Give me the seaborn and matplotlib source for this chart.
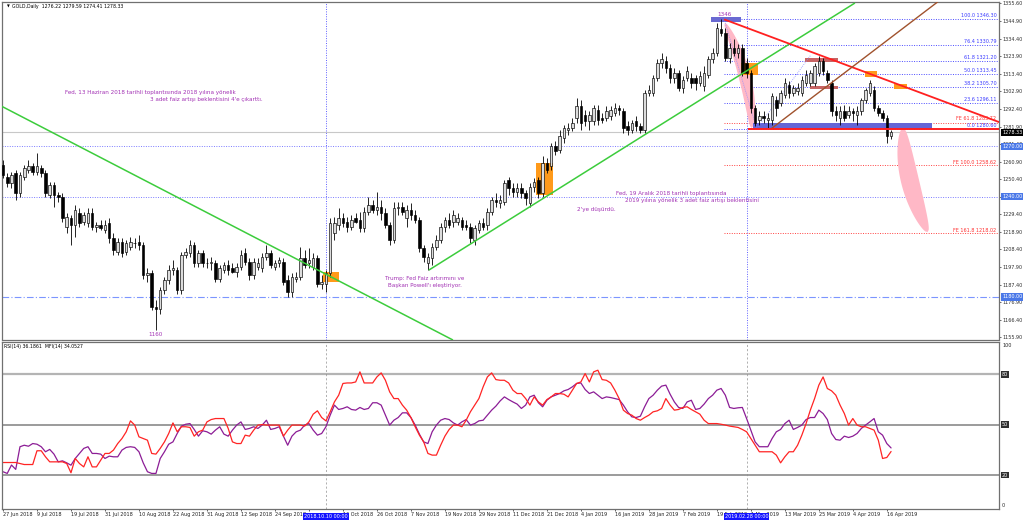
import numpy as np
import pandas as pd
import seaborn as sns
import matplotlib.pyplot as plt
from matplotlib.patches import Rectangle, Polygon

# =============================
# DATA
# =============================

opens = [1259, 1252, 1248, 1254, 1242, 1252, 1256, 1258, 1255, 1257,
         1254, 1241, 1247, 1241, 1240, 1222, 1227, 1223, 1230, 1225,
         1224, 1230, 1222, 1223, 1220, 1224, 1215, 1207, 1213, 1207,
         1210, 1212, 1213, 1211, 1193, 1194, 1174, 1173, 1184, 1190,
         1196, 1196, 1184, 1205, 1206, 1211, 1200, 1206, 1200, 1200,
         1200, 1191, 1196, 1199, 1197, 1195, 1198, 1206, 1201, 1193,
         1198, 1197, 1204, 1206, 1198, 1200, 1201, 1190, 1183, 1191,
         1192, 1203, 1200, 1198, 1203, 1188, 1188, 1194, 1218, 1223,
         1227, 1225, 1222, 1227, 1226, 1221, 1231, 1235, 1232, 1234,
         1230, 1223, 1214, 1233, 1234, 1227, 1232, 1229, 1226, 1209,
         1200, 1203, 1210, 1214, 1222, 1226, 1225, 1225, 1226, 1223,
         1222, 1214, 1220, 1224, 1223, 1231, 1238, 1236, 1237, 1250,
         1245, 1243, 1245, 1242, 1236, 1246, 1250, 1242, 1260, 1258,
         1270, 1268, 1275, 1280, 1281, 1287, 1294, 1289, 1285, 1285,
         1292, 1287, 1287, 1288, 1290, 1293, 1291, 1282, 1280, 1285,
         1282, 1280, 1302, 1302, 1311, 1320, 1321, 1317, 1311, 1314,
         1305, 1311, 1311, 1311, 1308, 1306, 1313, 1322, 1326, 1340,
         1338, 1323, 1329, 1326, 1329, 1320, 1314, 1293, 1286, 1288,
         1286, 1286, 1298, 1296, 1301, 1307, 1302, 1303, 1302, 1308,
         1308, 1308, 1314, 1321, 1314, 1308, 1291, 1287, 1291, 1289,
         1291, 1289, 1291, 1298, 1302, 1304, 1293, 1290, 1287, 1276.22]

highs = [1262, 1254, 1255, 1256, 1255, 1259, 1262, 1260, 1266, 1259,
         1256, 1249, 1249, 1243, 1242, 1230, 1229, 1235, 1233, 1231,
         1233, 1233, 1225, 1226, 1226, 1227, 1218, 1215, 1215, 1214,
         1216, 1215, 1217, 1213, 1197, 1196, 1178, 1186, 1192, 1199,
         1202, 1198, 1207, 1209, 1214, 1213, 1208, 1208, 1203, 1204,
         1202, 1199, 1201, 1202, 1200, 1200, 1208, 1209, 1203, 1203,
         1203, 1206, 1211, 1208, 1202, 1204, 1203, 1193, 1194, 1195,
         1210, 1208, 1209, 1206, 1205, 1193, 1196, 1227, 1228, 1233,
         1230, 1228, 1229, 1230, 1231, 1234, 1240, 1238, 1243, 1238,
         1233, 1225, 1237, 1237, 1237, 1235, 1236, 1232, 1228, 1211,
         1206, 1212, 1217, 1224, 1228, 1230, 1232, 1230, 1228, 1226,
         1224, 1223, 1226, 1227, 1233, 1240, 1242, 1241, 1250, 1252,
         1248, 1248, 1248, 1244, 1248, 1251, 1252, 1264, 1263, 1272,
         1273, 1280, 1283, 1284, 1287, 1299, 1298, 1292, 1291, 1295,
         1295, 1290, 1294, 1294, 1296, 1295, 1293, 1285, 1286, 1288,
         1284, 1304, 1307, 1313, 1322, 1326, 1324, 1319, 1317, 1316,
         1312, 1318, 1314, 1313, 1315, 1318, 1324, 1329, 1344, 1346.3,
         1341, 1332, 1334, 1331, 1331, 1323, 1316, 1295, 1291, 1291,
         1290, 1302, 1300, 1304, 1311, 1309, 1307, 1308, 1312, 1316,
         1316, 1320, 1324.3, 1323, 1316, 1310, 1294, 1294, 1295, 1294,
         1293, 1294, 1299, 1305, 1310, 1306, 1295, 1292, 1289, 1279.59]

lows = [1251, 1246, 1245, 1238, 1240, 1250, 1254, 1253, 1253, 1252,
        1240, 1239, 1234, 1237, 1225, 1218, 1211, 1216, 1222, 1223,
        1222, 1220, 1219, 1220, 1218, 1212, 1205, 1205, 1204, 1205,
        1208, 1209, 1208, 1191, 1189, 1172, 1160, 1170, 1182, 1188,
        1193, 1182, 1182, 1203, 1204, 1198, 1198, 1198, 1197, 1196,
        1189, 1189, 1194, 1193, 1194, 1192, 1196, 1199, 1190, 1191,
        1196, 1195, 1202, 1197, 1196, 1198, 1187, 1180, 1180, 1189,
        1190, 1197, 1197, 1196, 1186, 1185, 1183, 1192, 1214, 1220,
        1222, 1219, 1220, 1224, 1219, 1219, 1229, 1230, 1229, 1226,
        1221, 1211, 1212, 1229, 1229, 1222, 1226, 1224, 1207, 1201,
        1196, 1199, 1208, 1212, 1219, 1221, 1222, 1223, 1220, 1220,
        1212, 1211, 1218, 1220, 1220, 1229, 1234, 1233, 1235, 1241,
        1240, 1240, 1239, 1235, 1234, 1243, 1239, 1240, 1254, 1256,
        1265, 1266, 1272, 1277, 1279, 1284, 1280, 1282, 1280, 1283,
        1283, 1284, 1285, 1286, 1288, 1289, 1278, 1277, 1278, 1279,
        1278, 1278, 1300, 1300, 1309, 1317, 1314, 1308, 1308, 1303,
        1302, 1309, 1305, 1304, 1306, 1303, 1311, 1320, 1324, 1336,
        1321, 1320, 1324, 1323, 1312, 1311, 1290, 1282, 1283, 1284,
        1281, 1283, 1288, 1294, 1299, 1299, 1300, 1301, 1300, 1306,
        1306, 1306, 1312, 1313, 1308, 1288, 1285, 1283, 1285, 1287,
        1285, 1283, 1289, 1296, 1300, 1291, 1288, 1285, 1272, 1274.41]

closes = [1253, 1248, 1253, 1242, 1253, 1257, 1258, 1255, 1258, 1254,
          1242, 1247, 1241, 1240, 1227, 1228, 1223, 1232, 1224, 1229,
          1230, 1222, 1223, 1221, 1223, 1215, 1208, 1213, 1206, 1212,
          1213, 1212, 1211, 1193, 1194, 1174, 1173, 1184, 1190, 1196,
          1197, 1184, 1205, 1207, 1211, 1200, 1206, 1200, 1200, 1201,
          1191, 1197, 1199, 1196, 1195, 1198, 1205, 1201, 1193, 1201,
          1200, 1204, 1206, 1199, 1200, 1202, 1189, 1183, 1192, 1192,
          1203, 1199, 1202, 1203, 1188, 1189, 1194, 1224, 1224, 1227,
          1224, 1222, 1226, 1225, 1221, 1231, 1235, 1232, 1234, 1230,
          1223, 1214, 1233, 1234, 1231, 1232, 1229, 1226, 1209, 1204,
          1204, 1210, 1214, 1222, 1226, 1223, 1229, 1227, 1222, 1222,
          1215, 1221, 1224, 1222, 1231, 1238, 1237, 1238, 1248, 1245,
          1243, 1245, 1242, 1239, 1246, 1249, 1242, 1260, 1256, 1270,
          1267, 1276, 1281, 1281, 1284, 1294, 1284, 1285, 1289, 1293,
          1286, 1286, 1291, 1292, 1293, 1292, 1281, 1280, 1284, 1282,
          1280, 1302, 1304, 1311, 1320, 1322, 1317, 1311, 1314, 1305,
          1310, 1315, 1308, 1308, 1312, 1314, 1322, 1326, 1341, 1338,
          1323, 1329, 1326, 1329, 1314, 1314, 1293, 1284, 1288, 1287,
          1287, 1300, 1293, 1302, 1308, 1302, 1305, 1305, 1310, 1313,
          1314, 1318, 1321, 1315, 1310, 1291, 1289, 1291, 1287, 1291,
          1290, 1291, 1298, 1304, 1308, 1293, 1290, 1287, 1276, 1278.33]

rsi = [22.0, 21.0, 26.0, 23.4, 36.9, 37.8, 37.2, 38.8, 38.4, 36.9,
       33.9, 35.3, 32.5, 27.9, 28.5, 27.3, 25.9, 29.9, 32.9, 35.9,
       36.9, 32.9, 32.9, 32.5, 29.9, 31.3, 30.9, 30.9, 34.9, 36.5,
       36.9, 36.5, 33.9, 27.3, 22.0, 21.0, 21.0, 29.9, 33.9, 38.4,
       39.8, 44.8, 49.2, 50.3, 50.7, 47.2, 43.2, 46.4, 45.8, 44.4,
       46.8, 48.8, 44.4, 43.2, 46.8, 49.8, 51.7, 47.2, 47.8, 48.8,
       47.8, 49.8, 52.7, 47.2, 47.8, 48.8, 43.2, 37.8, 43.2, 45.8,
       46.8, 49.8, 50.7, 46.8, 43.8, 44.8, 48.8, 55.7, 61.7, 59.1,
       59.7, 60.7, 59.1, 58.7, 60.3, 59.1, 59.7, 63.1, 63.1, 61.7,
       55.7, 49.8, 52.7, 54.3, 57.1, 57.1, 54.3, 49.8, 44.4, 39.8,
       38.8, 45.8, 49.8, 52.7, 53.7, 53.1, 51.1, 49.8, 51.7, 53.1,
       49.8, 50.7, 52.3, 52.7, 55.7, 58.7, 61.1, 64.2, 66.6, 65.0,
       63.6, 62.3, 59.7, 61.7, 66.6, 67.6, 63.1, 60.7, 64.6, 66.6,
       67.6, 68.6, 70.2, 71.0, 72.6, 74.6, 74.9, 71.0, 68.6, 69.6,
       67.6, 65.6, 66.6, 66.2, 65.6, 65.0, 61.7, 57.7, 54.7, 54.3,
       55.1, 60.7, 65.6, 67.6, 70.6, 73.0, 73.6, 68.2, 63.6, 60.3,
       59.7, 63.6, 64.6, 59.1, 59.7, 62.3, 65.6, 67.6, 70.6, 71.6,
       67.6, 60.3, 59.7, 60.1, 60.3, 53.7, 46.8, 39.8, 36.9, 36.9,
       36.9, 41.8, 45.8, 47.2, 50.7, 52.7, 47.2, 48.4, 49.8, 53.1,
       54.3, 54.3, 58.7, 56.7, 53.1, 44.8, 41.2, 40.8, 43.2, 42.4,
       43.2, 44.8, 47.8, 49.8, 51.7, 53.7, 45.8, 43.8, 38.8, 36.19]

mfi = [27.5, 27.5, 27.5, 27.5, 26.9, 26.3, 26.3, 26.3, 34.5, 34.5,
       30.9, 27.9, 27.9, 27.9, 27.9, 26.9, 21.4, 29.9, 26.9, 24.9,
       30.9, 24.9, 24.9, 28.9, 32.9, 32.9, 34.9, 38.8, 41.8, 45.8,
       52.3, 49.8, 42.8, 41.8, 40.8, 32.9, 32.5, 35.9, 39.8, 44.8,
       51.1, 45.8, 48.8, 48.8, 48.4, 43.2, 45.8, 46.8, 51.7, 53.1,
       53.7, 53.7, 53.7, 47.8, 39.8, 38.8, 38.8, 43.8, 43.2, 46.8,
       49.8, 50.1, 49.8, 49.8, 49.8, 49.8, 43.2, 46.8, 49.8, 49.8,
       49.8, 49.2, 51.7, 56.3, 58.3, 54.3, 52.3, 57.7, 63.6, 67.6,
       74.6, 74.9, 74.9, 75.5, 81.5, 74.9, 74.9, 74.9, 78.5, 80.9,
       76.5, 69.6, 65.6, 65.6, 61.7, 58.7, 54.3, 48.8, 43.8, 39.8,
       32.9, 31.9, 31.9, 37.8, 43.2, 47.2, 49.8, 49.8, 48.8, 52.7,
       57.7, 61.7, 65.6, 72.6, 78.5, 80.9, 76.9, 76.5, 76.5, 74.9,
       70.6, 68.6, 68.6, 65.6, 61.7, 66.6, 63.6, 61.7, 65.0, 66.6,
       68.6, 68.6, 68.2, 66.6, 70.6, 74.6, 75.5, 80.5, 75.5, 81.5,
       82.5, 76.9, 76.5, 74.9, 70.6, 65.6, 58.7, 56.7, 55.7, 53.7,
       52.7, 54.3, 55.7, 57.7, 58.3, 59.7, 65.6, 61.7, 58.7, 59.1,
       60.3, 60.7, 59.1, 57.7, 56.3, 52.7, 50.7, 50.7, 50.7, 50.3,
       49.8, 49.2, 48.8, 48.4, 47.2, 45.8, 41.8, 37.8, 33.9, 33.9,
       33.9, 33.9, 31.9, 27.3, 30.9, 33.9, 33.9, 37.8, 43.8, 50.7,
       58.7, 65.6, 73.6, 78.5, 71.6, 70.2, 67.6, 61.7, 56.7, 49.8,
       53.7, 49.8, 48.8, 48.8, 47.8, 46.8, 40.8, 29.9, 30.5, 34.05]

rsi_last = 36.1861
mfi_last = 34.0527

date_labels = ["27 Jun 2018", "9 Jul 2018", "19 Jul 2018", "31 Jul 2018", "10 Aug 2018",
               "22 Aug 2018", "31 Aug 2018", "12 Sep 2018", "24 Sep 2018", "4 Oct 2018",
               "16 Oct 2018", "26 Oct 2018", "7 Nov 2018", "19 Nov 2018", "29 Nov 2018",
               "11 Dec 2018", "21 Dec 2018", "4 Jan 2019", "16 Jan 2019", "28 Jan 2019",
               "7 Feb 2019", "19 Feb 2019", "1 Mar 2019", "13 Mar 2019", "25 Mar 2019",
               "4 Apr 2019", "16 Apr 2019"]
date_step = 8

price_ticks = [1355.60, 1344.90, 1334.40, 1323.90, 1313.40, 1302.90, 1292.40, 1281.90,
               1271.40, 1260.90, 1250.40, 1239.90, 1229.40, 1218.90, 1208.40, 1197.90,
               1187.40, 1176.90, 1166.40, 1155.90]

# marked bars (vertical cursor lines)
marked_bars = [76, 175]
marked_names = ["2018.10.10 00:00", "2019.02.28 00:00"]

# fibo retracement (from the 1346 top) and expansion
fib_start = 169.7
fib_pct = ["100.0", "76.4", "61.8", "50.0", "38.2", "23.6", "0.0"]
fib_lvl = [1346.30, 1330.79, 1321.20, 1313.45, 1305.70, 1296.11, 1280.60]
fe_pct = ["61.8", "100.0", "161.8"]
fe_lvl = [1283.72, 1258.62, 1218.02]

# horizontal levels
blue_levels = [1270.00, 1240.00]
dashdot_level = 1180.00
last_price = 1278.33

# trend lines: (x0, x1, y0, y1)
green_down = (-0.3, 105.9, 1294.0, 1154.2)
green_up = (100.2, 200.5, 1196.0, 1355.8)
red_down = (169.7, 235.0, 1346.0, 1284.0)
brown_up = (180.9, 220.0, 1280.8, 1356.5)
red_flat = (175.3, 235.0, 1280.2, 1280.2)
fe_legs = [(169.7, 177.4, 1346.3, 1280.6), (177.4, 190.0, 1280.6, 1324.3)]

# boxes: (x0, x1, y0, y1, colour)
boxes = [(75.3, 79.1, 1188.9, 1194.9, "#ff9a1a"),
         (125.4, 129.4, 1241.0, 1260.1, "#ff9a1a"),
         (173.6, 177.6, 1312.8, 1319.9, "#ff9a1a"),
         (202.8, 205.6, 1311.5, 1315.1, "#ff9a1a"),
         (209.6, 212.7, 1304.3, 1307.3, "#ff9a1a"),
         (188.7, 196.5, 1320.5, 1322.9, "#c86464"),
         (189.9, 196.5, 1304.3, 1306.1, "#c86464"),
         (176.5, 218.6, 1280.4, 1283.9, "#6565d6"),
         (166.6, 173.6, 1344.4, 1347.4, "#6a6ad2")]

# pink arcs: (start, control, end, width px)
arcs = [((169.9, 1343.8), (176.1, 1310.6), (176.2, 1281.0), 12),
        ((211.8, 1281.0), (212.1, 1249.9), (217.6, 1218.8), 18)]

# notes
notes = [(14.6, 1302.1, "Fed, 13 Haziran 2018 tarihli toplantısında 2018 yılına yönelik", "left"),
         (34.6, 1297.8, "3 adet faiz artışı beklentisini 4'e çıkarttı.", "left"),
         (99.3, 1191.3, "Trump: Fed Faiz artırımını ve", "center"),
         (99.3, 1187.1, "Başkan Powell'ı eleştiriyor.", "center"),
         (144.2, 1242.1, "Fed, 19 Aralık 2018 tarihli toplantısında", "left"),
         (146.4, 1237.4, "2019 yılına yönelik 3 adet faiz artışı beklentisini", "left"),
         (135.1, 1232.0, "2'ye düşürdü.", "left"),
         (169.9, 1349.0, "1346", "center"),
         (35.8, 1157.8, "1160", "center")]

# =============================
# FRAME
# =============================

df = pd.DataFrame({"bar": np.arange(len(closes)), "open": opens, "high": highs,
                   "low": lows, "close": closes, "rsi": rsi, "mfi": mfi})

sns.set_theme(style="white")
plt.rcParams["font.family"] = ["DejaVu Sans"]

W, H = 1024, 521
fig = plt.figure(figsize=(W / 100, H / 100), dpi=100)
fig.patch.set_facecolor("white")
ax = fig.add_axes([1.5 / W, 1 - 339.5 / H, 997.5 / W, 337.5 / H])
ax2 = fig.add_axes([1.5 / W, 1 - 508.5 / H, 997.5 / W, 166.5 / H])

xmin, xmax = -0.35, 234.4
ax.set_xlim(xmin, xmax)
ax2.set_xlim(xmin, xmax)
ax.set_ylim(1154.52, 1356.38)
ax2.set_ylim(0.1, 99.3)

for a in (ax, ax2):
    a.set_facecolor("white")
    for s in a.spines.values():
        s.set_color("#707070")
        s.set_linewidth(0.9)

purple = "#a232b4"
fs = 3.5

# =============================
# MAIN PANEL
# =============================

up = df["close"] >= df["open"]
ax.vlines(df["bar"], df["low"], df["high"], color="black", lw=0.6, zorder=4)
body = np.maximum((df["close"] - df["open"]).abs(), 0.35)
ax.bar(df["bar"], body, bottom=np.minimum(df["open"], df["close"]), width=0.6,
       color=np.where(up, "#dcdcdc", "black"), edgecolor="black", linewidth=0.45, zorder=5)

for b in marked_bars:
    ax.axvline(b, color="#5f5fff", lw=0.7, ls=(0, (1, 1.5)), zorder=1)
for lv in blue_levels:
    ax.axhline(lv, color="#7a7aff", lw=0.7, ls=(0, (1, 1.5)), zorder=1)
ax.axhline(dashdot_level, color="#7c95ff", lw=0.8, ls=(0, (6, 2, 1, 2)), zorder=1)
ax.axhline(last_price, color="#c8c8c8", lw=0.8, zorder=1)

for p, lv in zip(fib_pct, fib_lvl):
    ax.plot([fib_start, xmax], [lv, lv], color="#4b4bff", lw=0.7, ls=(0, (1, 1.5)), zorder=2)
    ax.text(xmax - 0.6, lv + 0.4, f"{p} {lv:.2f}", color="#3c3cff", fontsize=fs,
            ha="right", va="bottom", zorder=8)
for p, lv in zip(fe_pct, fe_lvl):
    ax.plot([fib_start, xmax], [lv, lv], color="#ff4040", lw=0.7, ls=(0, (1, 1.5)), zorder=2)
    ax.text(xmax - 0.6, lv + 1.4 if p == "61.8" else lv + 0.4, f"FE {p} {lv:.2f}",
            color="#ff3030", fontsize=fs, ha="right", va="bottom", zorder=8)

for x0, x1, y0, y1, col in boxes:
    ax.add_patch(Rectangle((x0, y0), x1 - x0, y1 - y0, color=col, lw=0, zorder=3))


def arc(p0, c, p2, wpx, n=80):
    T = ax.transData
    P0, C, P2 = T.transform([p0, c, p2])
    t = np.linspace(0, 1, n)[:, None]
    pts = (1 - t) ** 2 * P0 + 2 * (1 - t) * t * C + t ** 2 * P2
    d = 2 * (1 - t) * (C - P0) + 2 * t * (P2 - C)
    nrm = np.column_stack([-d[:, 1], d[:, 0]])
    nrm /= np.linalg.norm(nrm, axis=1)[:, None]
    hw = wpx / 2 * np.sin(np.pi * t) ** 0.5
    poly = np.vstack([pts + nrm * hw, (pts - nrm * hw)[::-1]])
    ax.add_patch(Polygon(T.inverted().transform(poly), closed=True,
                         color="#ffb8c6", lw=0, zorder=2))


for p0, c, p2, w in arcs:
    arc(p0, c, p2, w)

for x0, x1, y0, y1 in fe_legs:
    ax.plot([x0, x1], [y0, y1], color="#8a8aff", lw=0.6, ls=(0, (1, 1.5)), zorder=3)
for (x0, x1, y0, y1), col, lw in [(green_down, "#3ccc3c", 1.1), (green_up, "#3ccc3c", 1.1),
                                  (red_down, "#ff2020", 1.3), (brown_up, "#a0522d", 1.0),
                                  (red_flat, "#ff2020", 1.4)]:
    ax.plot([x0, x1], [y0, y1], color=col, lw=lw, zorder=6, solid_capstyle="butt")

for x, y, s, ha in notes:
    ax.text(x, y, s, color=purple, fontsize=4.1, ha=ha, va="center", zorder=9)

ax.set_xticks([])
ax.yaxis.tick_right()
ax.set_yticks(price_ticks)
ax.set_yticklabels([f"{v:.2f}" for v in price_ticks])
ax.tick_params(axis="y", length=1.5, width=0.5, pad=1, labelsize=fs, colors="#303030")

ytr = ax.get_yaxis_transform()
for lv in blue_levels + [dashdot_level]:
    ax.text(1.003, lv, f"{lv:.2f}", transform=ytr, fontsize=fs, color="white", ha="left",
            va="center", clip_on=False, zorder=10,
            bbox=dict(facecolor="#4a78e8", edgecolor="none", pad=0.8))
ax.text(1.003, last_price, f"{last_price:.2f}", transform=ytr, fontsize=fs, color="white",
        ha="left", va="center", clip_on=False, zorder=10,
        bbox=dict(facecolor="black", edgecolor="none", pad=0.8))

ax.text(0.0055, 0.987, "▼", transform=ax.transAxes, fontsize=2.6, color="black", va="center")
ax.text(0.011, 0.987, f"GOLD,Daily  {opens[-1]:.2f} {highs[-1]:.2f} {lows[-1]:.2f} {closes[-1]:.2f}",
        transform=ax.transAxes, fontsize=3.3, color="black", va="center")

# =============================
# RSI / MFI PANEL
# =============================

sns.lineplot(data=df, x="bar", y="rsi", ax=ax2, color="#8c1d96", linewidth=0.9, legend=False)
sns.lineplot(data=df, x="bar", y="mfi", ax=ax2, color="#ff2424", linewidth=0.9, legend=False)
ax2.set_xlabel("")
ax2.set_ylabel("")

ax2.axhline(80, color="#b4b4b4", lw=1.6, zorder=0)
ax2.axhline(50, color="#8a8a8a", lw=1.2, zorder=0)
ax2.axhline(20, color="#8a8a8a", lw=1.2, zorder=0)
for b in marked_bars:
    ax2.axvline(b, color="#909090", lw=0.5, ls=(0, (3, 3)), zorder=0)

ax2.text(0.003, 0.975, f"RSI(14) {rsi_last:.4f}  MFI(14) {mfi_last:.4f}",
         transform=ax2.transAxes, fontsize=3.3, color="black", va="center")

ytr2 = ax2.get_yaxis_transform()
ax2.text(1.003, 97.5, "100", transform=ytr2, fontsize=fs, ha="left", va="center", clip_on=False)
for lv in (80, 50, 20):
    ax2.text(1.003, lv, str(lv), transform=ytr2, fontsize=fs, color="white", ha="left",
             va="center", clip_on=False, bbox=dict(facecolor="#303030", edgecolor="none", pad=0.6))
ax2.text(1.003, 2, "0", transform=ytr2, fontsize=fs, ha="left", va="center", clip_on=False)
ax2.set_yticks([])

# date axis: a label that sits fully under a cursor box is not visible, so leave it blank
ticks = [i * date_step for i in range(len(date_labels))]
shown = ["" if any(0 <= b - t <= 5 for b in marked_bars) else lab
         for t, lab in zip(ticks, date_labels)]
ax2.set_xticks(ticks)
ax2.set_xticklabels(shown, ha="left")
ax2.tick_params(axis="x", length=1.5, width=0.5, pad=0.8, labelsize=fs, colors="#202020",
                bottom=True)

xtr = ax2.get_xaxis_transform()
for b, name in zip(marked_bars, marked_names):
    ax2.text(b, -0.035, name, transform=xtr, fontsize=fs, color="white", ha="center", va="top",
             clip_on=False, zorder=10, bbox=dict(facecolor="#1414ff", edgecolor="none", pad=0.8))

fig.savefig("out.png", dpi=100, facecolor="white")
